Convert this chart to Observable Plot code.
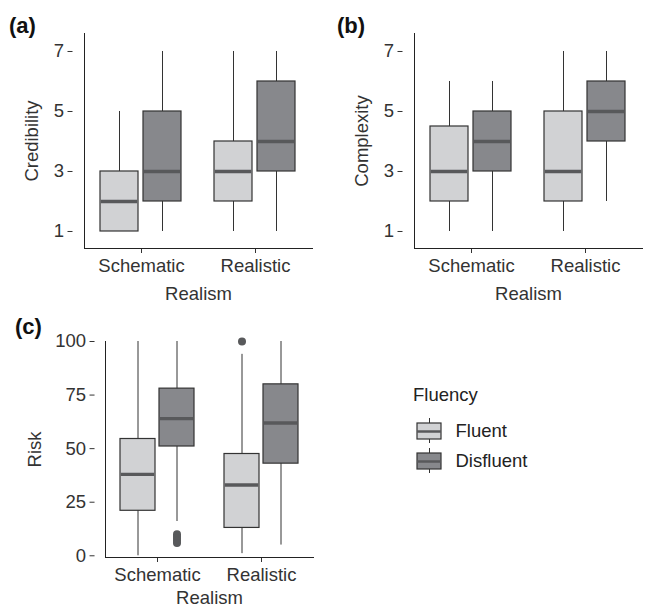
<!DOCTYPE html>
<html>
<head>
<meta charset="utf-8">
<script src="https://cdn.jsdelivr.net/npm/d3@7"></script>
<script src="https://cdn.jsdelivr.net/npm/@observablehq/plot@0.6"></script>
<style>
  html, body { margin: 0; padding: 0; background: #fff; }
  #chart { position: relative; width: 646px; height: 606px; overflow: hidden; background: #fff;
           font-family: "Liberation Sans", Arial, sans-serif; color: #222; }
  #chart svg { position: absolute; }
  .tag { position: absolute; font-weight: bold; font-size: 22px; line-height: 1; color: #111; }
  .legtitle { position: absolute; font-size: 18.5px; line-height: 1; color: #222; }
</style>
</head>
<body>
<div id="chart"></div>
<script>
// ---- categories ----
const realism = ["Schematic", "Realistic"];
const fluency = ["Fluent", "Disfluent"];
const groupRealism = ["Schematic", "Schematic", "Realistic", "Realistic"];
const groupFluency = ["Fluent", "Disfluent", "Fluent", "Disfluent"];
const fills = ["#d1d2d4", "#87888c"];

// ---- (a) Credibility: box statistics per group ----
const credibilityMin = [1, 1, 1, 1];
const credibilityQ1 = [1, 2, 2, 3];
const credibilityMedian = [2, 3, 3, 4];
const credibilityQ3 = [3, 5, 4, 6];
const credibilityMax = [5, 7, 7, 7];
const credibilityTicks = [1, 3, 5, 7];

// ---- (b) Complexity ----
const complexityMin = [1, 1, 1, 2];
const complexityQ1 = [2, 3, 2, 4];
const complexityMedian = [3, 4, 3, 5];
const complexityQ3 = [4.5, 5, 5, 6];
const complexityMax = [6, 6, 7, 7];
const complexityTicks = [1, 3, 5, 7];

// ---- (c) Risk ----
const riskMin = [0, 16, 1, 5];
const riskQ1 = [21, 51, 13, 43];
const riskMedian = [38, 64, 33, 62];
const riskQ3 = [54.5, 78, 47.5, 80];
const riskMax = [100, 100, 94, 100];
const riskTicks = [0, 25, 50, 75, 100];
const riskOutlierRealism = ["Schematic", "Schematic", "Schematic", "Schematic", "Schematic", "Realistic"];
const riskOutlierFluency = ["Disfluent", "Disfluent", "Disfluent", "Disfluent", "Disfluent", "Fluent"];
const riskOutlierValue = [10, 9, 8, 7, 6, 100];

function rowsOf(min, q1, median, q3, max) {
  return groupRealism.map((r, i) => ({
    realism: r, fluency: groupFluency[i],
    min: min[i], q1: q1[i], median: median[i], q3: q3[i], max: max[i]
  }));
}

const baseStyle = {
  fontFamily: '"Liberation Sans", Arial, sans-serif',
  fontSize: "18.5px",
  color: "#333",
  background: "transparent",
  overflow: "visible"
};

const fxPadOuter = 0.1;

function panel({rows, outliers = [], yDomain, yTicks, yLabel, yLabelOffset, xLabelOffset, width, height,
                marginLeft, marginRight, marginTop, marginBottom}) {
  // the y axis sits at the panel edge, outside the first facet's outer padding
  const step = (width - marginLeft - marginRight) / (realism.length + 2 * fxPadOuter);
  const axisShift = -fxPadOuter * step;
  return Plot.plot({
    width, height, marginLeft, marginRight, marginTop, marginBottom,
    style: baseStyle,
    fx: {domain: realism, paddingInner: 0, paddingOuter: fxPadOuter, axis: null, label: null},
    x: {domain: fluency, paddingInner: 0.114, paddingOuter: 0.364, axis: null},
    y: {domain: yDomain, axis: null},
    color: {domain: fluency, range: fills},
    marks: [
      Plot.ruleX(rows, {fx: "realism", x: "fluency", y1: "min", y2: "max", stroke: "#333", strokeWidth: 1}),
      Plot.barY(rows, {fx: "realism", x: "fluency", y1: "q1", y2: "q3", fill: "fluency", stroke: "#333", strokeWidth: 1.2}),
      Plot.tickY(rows, {fx: "realism", x: "fluency", y: "median", stroke: "#58595b", strokeWidth: 3.4, insetLeft: 0.8, insetRight: 0.8}),
      Plot.dot(outliers, {fx: "realism", x: "fluency", y: "value", r: 4, fill: "#58595b", stroke: null}),
      Plot.axisY({ticks: yTicks, tickSize: 5, tickPadding: 4, dx: axisShift, label: yLabel,
                  labelAnchor: "center", labelOffset: yLabelOffset, labelArrow: "none", fill: "#333"}),
      Plot.axisFx({anchor: "bottom", tickSize: 5, tickPadding: 5, label: "Realism",
                   labelAnchor: "center", labelOffset: xLabelOffset, labelArrow: "none"}),
      Plot.frame({facet: "super", anchor: "left", stroke: "#222"}),
      Plot.frame({facet: "super", anchor: "bottom", stroke: "#222"})
    ]
  });
}

const chart = document.getElementById("chart");
function place(el, left, top) { el.style.left = left + "px"; el.style.top = top + "px"; chart.appendChild(el); }

const pa = panel({
  rows: rowsOf(credibilityMin, credibilityQ1, credibilityMedian, credibilityQ3, credibilityMax),
  yDomain: [0.433, 7.6], yTicks: credibilityTicks, yLabel: "Credibility", yLabelOffset: 60, xLabelOffset: 51,
  width: 330, height: 310, marginLeft: 71, marginRight: 6, marginTop: 33, marginBottom: 62
});
place(pa, 0, 0);

const pb = panel({
  rows: rowsOf(complexityMin, complexityQ1, complexityMedian, complexityQ3, complexityMax),
  yDomain: [0.433, 7.6], yTicks: complexityTicks, yLabel: "Complexity", yLabelOffset: 60, xLabelOffset: 51,
  width: 340, height: 310, marginLeft: 81, marginRight: 6, marginTop: 33, marginBottom: 62
});
place(pb, 320, 0);

const outliers = riskOutlierValue.map((v, i) => ({realism: riskOutlierRealism[i], fluency: riskOutlierFluency[i], value: v}));
const pc = panel({
  rows: rowsOf(riskMin, riskQ1, riskMedian, riskQ3, riskMax), outliers,
  yDomain: [-0.8, 100], yTicks: riskTicks, yLabel: "Risk", yLabelOffset: 78, xLabelOffset: 46,
  width: 330, height: 296, marginLeft: 94, marginRight: 6, marginTop: 31, marginBottom: 49
});
place(pc, 0, 310);

// ---- legend ----
const legend = Plot.plot({
  width: 200, height: 70, marginLeft: 17, marginRight: 159, marginTop: 0, marginBottom: 0,
  style: baseStyle,
  x: {axis: null},
  y: {domain: fluency, range: [6, 66], paddingInner: 0.467, paddingOuter: 0.233, axis: null},
  color: {domain: fluency, range: fills},
  marks: [
    Plot.ruleX(fluency, {x: null, y1: d => d, y2: d => d, insetTop: -5, insetBottom: -4, stroke: "#333"}),
    Plot.cell(fluency, {y: d => d, fill: d => d, stroke: "#333", strokeWidth: 1.2}),
    Plot.ruleY(fluency, {y: d => d, stroke: "#58595b", strokeWidth: 2.5}),
    Plot.text(fluency, {y: d => d, text: d => d, frameAnchor: "right", textAnchor: "start", dx: 14, fill: "#222"})
  ]
});
place(legend, 400, 410);

// ---- panel tags and legend title ----
function label(cls, text, left, top) {
  const d = document.createElement("div");
  d.className = cls; d.textContent = text;
  d.style.left = left + "px"; d.style.top = top + "px";
  chart.appendChild(d);
}
label("tag", "(a)", 9, 15);
label("tag", "(b)", 337, 15);
label("tag", "(c)", 15, 316);
label("legtitle", "Fluency", 413, 386);
</script>
</body>
</html>
